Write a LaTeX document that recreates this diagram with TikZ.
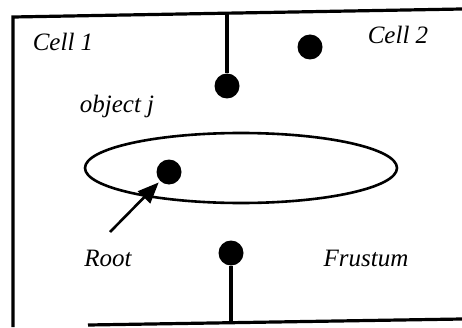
\documentclass[tikz,border=0pt]{standalone}
\usepackage{fontspec}
\setmainfont{Liberation Serif}
\usetikzlibrary{arrows.meta,positioning}

\begin{document}
\begin{tikzpicture}[x=1pt, y=1pt,
				dot/.style={circle, fill=black, inner sep=0pt, minimum size=25pt},
				lbl/.style={font=\fontsize{25}{28}\selectfont\itshape, inner sep=0pt},
				arr/.style={-{Triangle[length=21pt, width=17pt]}, line width=2.6pt, shorten >=2pt},
				frame/.style={line width=3.2pt},
				]
				\useasboundingbox (0,0) rectangle (462,327);
				
				% frame of the cells
				\draw[frame] (13,0) -- (13,310) -- (462,318);
				\draw[frame] (88,2) -- (462,8);
				\coordinate (topwall) at (227,314);
				\coordinate (botwall) at (231,3);
				
				\node[dot] (wallA) at (227,241) {};
				\node[dot] (wallB) at (231,74)  {};
				\node[dot] (cellB) at (310,280) {};
				\node[dot] (root)  at (169,155) {};
				
				\draw[frame] (wallA) -- (topwall);
				\draw[frame] (wallB) -- (botwall);
				
				\draw[line width=2.6pt] (241,159) ellipse [x radius=156, y radius=35];
				
				\node[lbl] (c1)   at (63,285)  {Cell 1};
				\node[lbl] (c2)   at (398,292) {Cell 2};
				\node[lbl] (obj)  at (117,221) {object j};
				\node[lbl] (rlbl) at (108,69)  {Root};
				\node[lbl] (fru)  at (366,69)  {Frustum};
				
				\coordinate (tail) at (110,95);
				\draw[arr] (tail) -- (root);
\end{tikzpicture}
\end{document}
